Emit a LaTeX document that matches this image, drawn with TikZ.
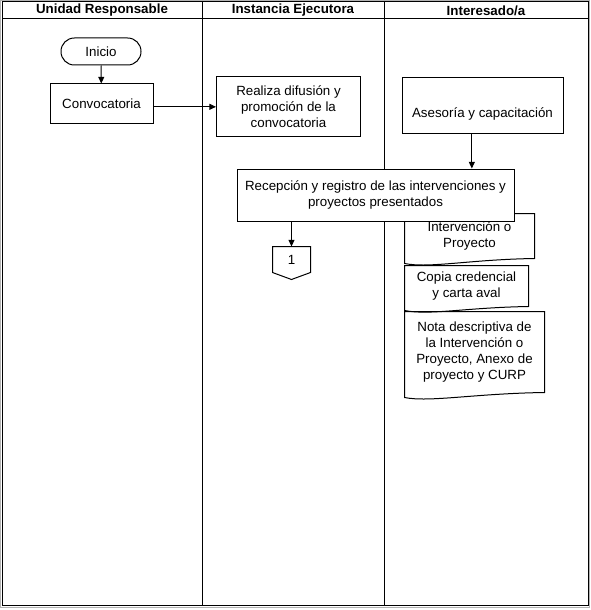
\documentclass[tikz,border=0pt]{standalone}
\usepackage{fontspec}
\setmainfont{Liberation Sans}
\usetikzlibrary{arrows.meta,calc}

\tikzset{
	proceso/.style={draw, fill=white, align=center, inner sep=2pt},
	documento/.style={align=center, inner sep=0pt},
	encabezado/.style={font=\bfseries},
}

\begin{document}
\begin{tikzpicture}[x=0.75pt,y=-0.75pt,line width=0.75pt,>={Triangle[length=5pt,width=4.5pt]}]
	\useasboundingbox (0,0) rectangle (590,610);
	% marco y carriles
	\draw[gray!60] (0.5,0.5) rectangle (589.5,607.5);
	\draw (2,2) rectangle (588,605);
	\draw (2,19) -- (588,19);
	\draw (202.5,2) -- (202.5,605);
	\draw (384,2) -- (384,605);
	\node[encabezado] (h1) at (102,10.5) {Unidad Responsable};
	\node[encabezado] (h2) at (293,10.5) {Instancia Ejecutora};
	\node[encabezado] (h3) at (486,10.5) {Interesado/a};
	% nodos
	\node[draw, rounded corners=10pt, minimum width=60pt, minimum height=20.25pt] (inicio) at (101,51.5) {Inicio};
	\node[proceso, minimum width=77.25pt, minimum height=29.25pt] (conv) at (101.5,103.5) {Convocatoria};
	\node[proceso, minimum width=108pt, minimum height=45pt] (real) at (288.5,106.5) {Realiza difusión y\\promoción de la\\convocatoria};
	\node[proceso, minimum width=120.75pt, minimum height=41.25pt, text height=21pt, text depth=3pt] (ases) at (482.5,105.5) {Asesoría y capacitación};
	% documentos
	\node[documento, minimum width=96.75pt, minimum height=33pt] (d1) at (469.5,236) {Intervención o\\Proyecto};
	\node[documento, minimum width=92.25pt, minimum height=30pt] (d2) at (466.5,286) {Copia credencial\\y carta aval};
	\node[documento, minimum width=104.25pt, minimum height=60pt] (d3) at (474.5,352) {Nota descriptiva de\\la Intervención o\\Proyecto, Anexo de\\proyecto y CURP};
	\draw (d1.north west) -- (d1.north east) -- (d1.south east) .. controls ($(d1.south)+(0,1)$) and ($(d1.south west)+(25,10)$) .. ($(d1.south west)+(0,5)$) -- cycle;
	\draw (d2.north west) -- (d2.north east) -- (d2.south east) .. controls ($(d2.south)+(0,1)$) and ($(d2.south west)+(25,9)$) .. ($(d2.south west)+(0,4)$) -- cycle;
	\draw (d3.north west) -- (d3.north east) -- (d3.south east) .. controls ($(d3.south)+(0,1)$) and ($(d3.south west)+(25,10)$) .. ($(d3.south west)+(0,5)$) -- cycle;
	\node[proceso, minimum width=207.75pt, minimum height=39pt] (recep) at (375.5,195) {Recepción y registro de las intervenciones y\\proyectos presentados};
	% conector
	\node[minimum width=27.75pt, minimum height=18.75pt, inner sep=0pt] (c1) at (291.5,259.5) {1};
	\draw (c1.north west) -- (c1.north east) -- (c1.south east) -- ($(c1.south)+(0,7)$) -- (c1.south west) -- cycle;
	% flechas
	\draw [->] (inicio) -- (conv);
	\draw [->] ([yshift=-2.5pt]conv.east) -- ([yshift=-2.5pt]conv.east -| real.west);
	\draw [->] ([xshift=-8pt]ases.south) -- ([xshift=-8pt]ases.south |- recep.north);
	\draw [->] (recep.south -| c1.north) -- (c1.north);
\end{tikzpicture}
\end{document}
